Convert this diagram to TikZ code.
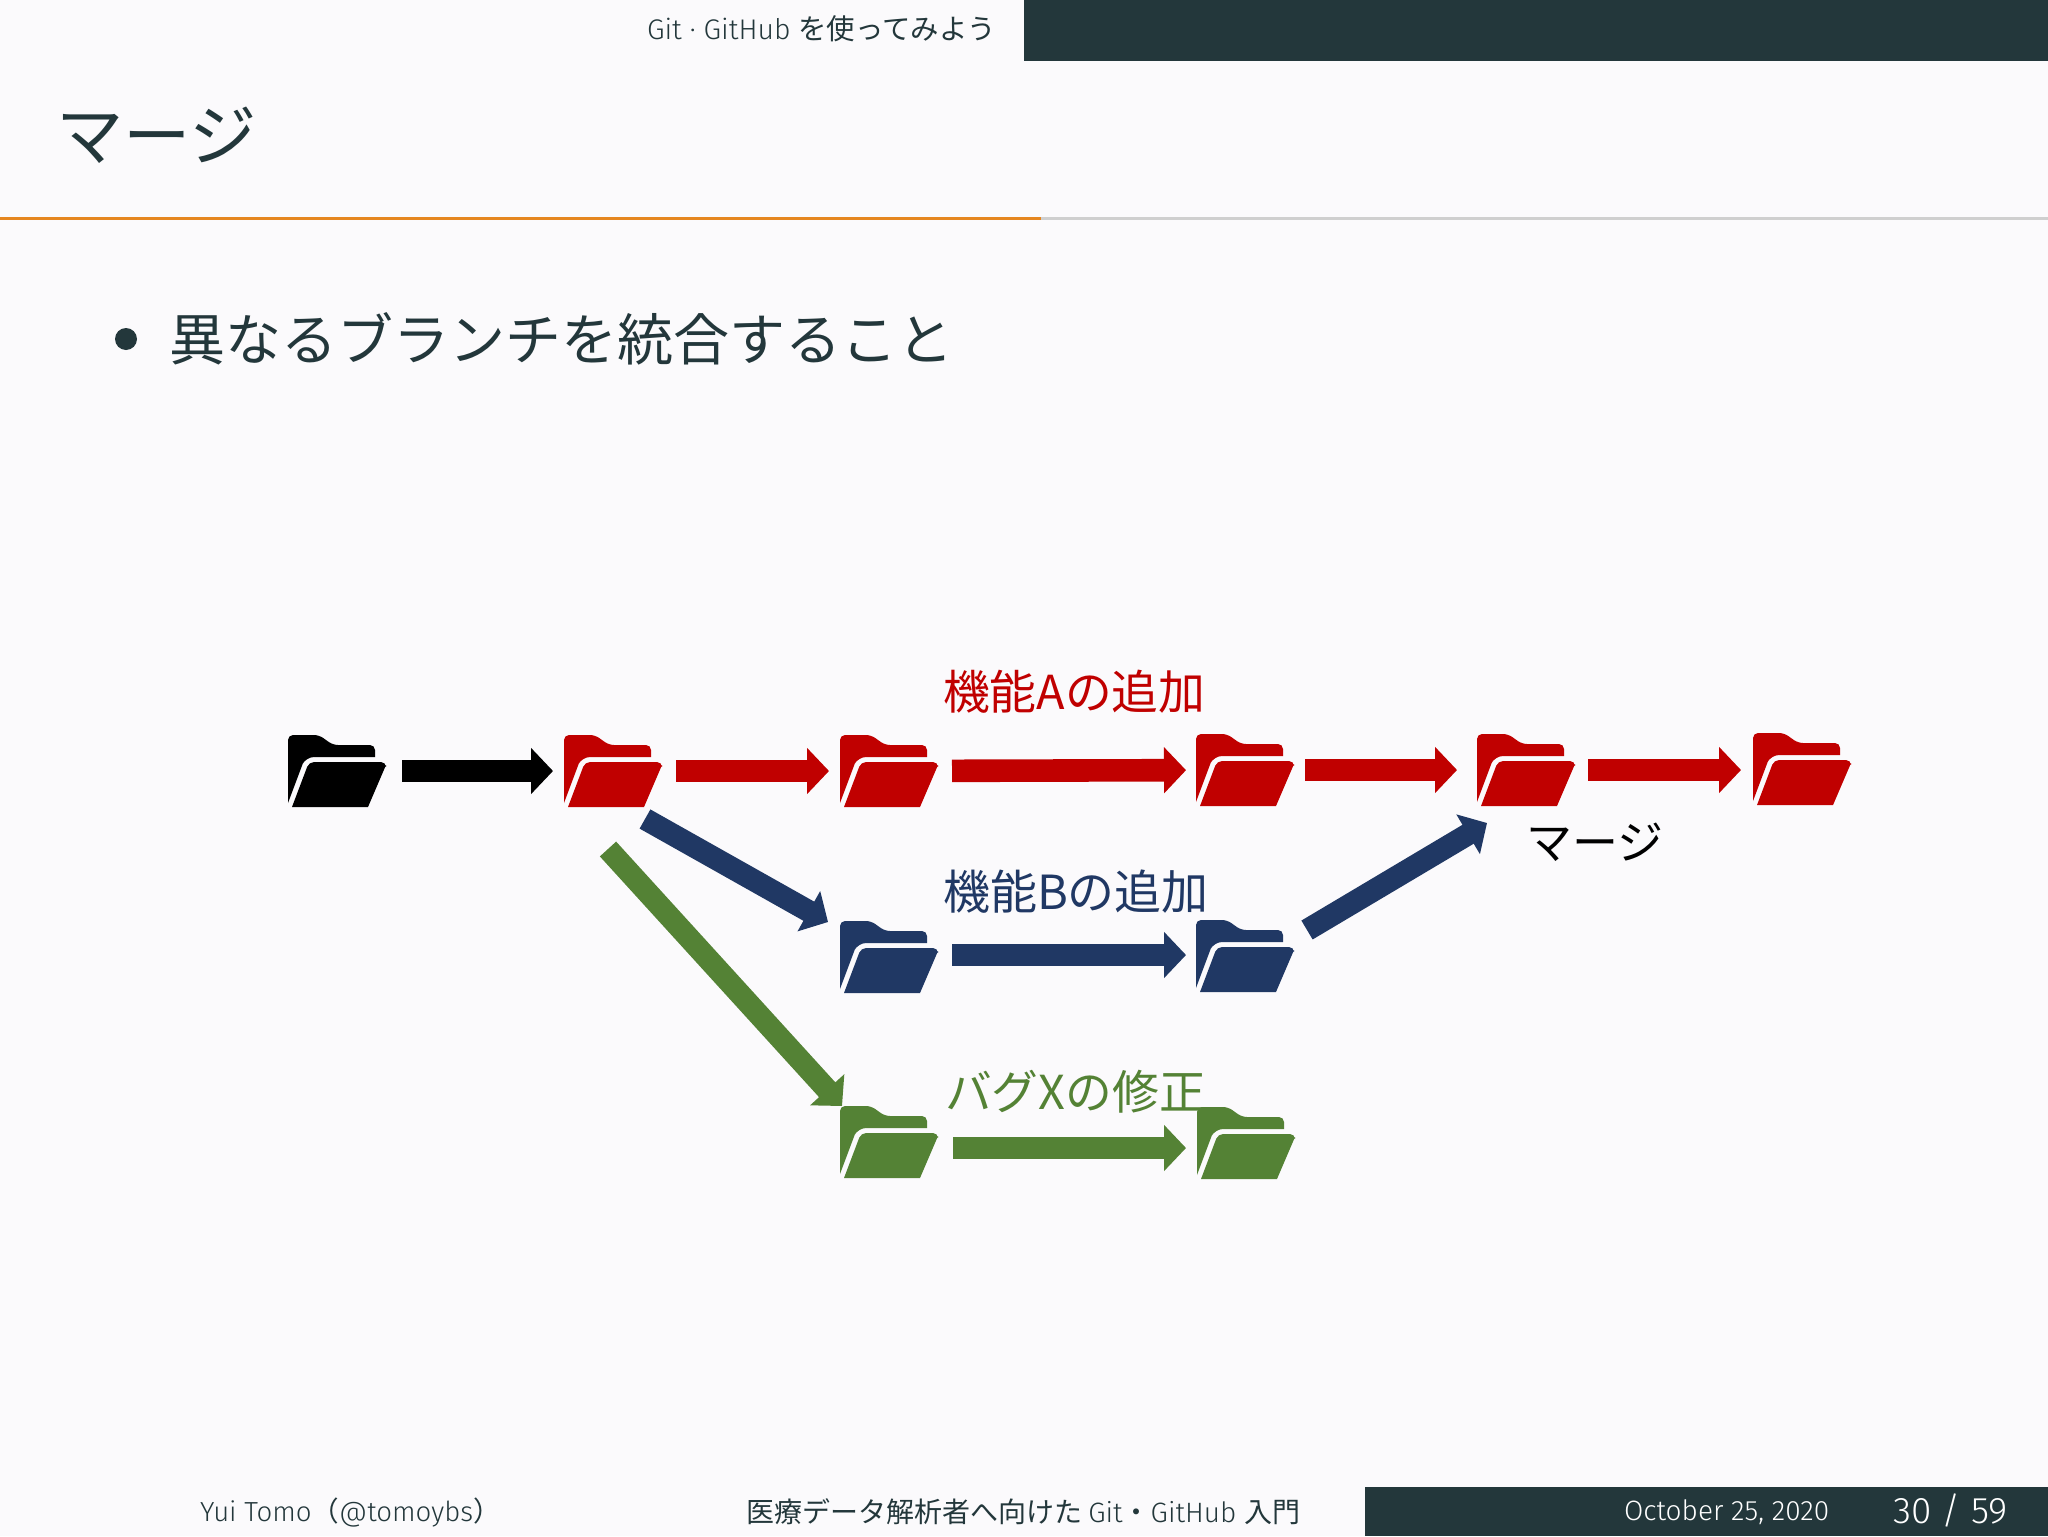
\documentclass[tikz,border=0pt]{standalone}
\usepackage{fontspec}
\usetikzlibrary{arrows.meta}
\setmainfont{Fira Sans Light}
\newfontfamily\cjk{Noto Sans CJK JP}
\newfontfamily\lat{Fira Sans Light}
\definecolor{bgc}{HTML}{FBFAFC}
\definecolor{dark}{HTML}{23373B}
\definecolor{orng}{HTML}{E5861F}
\definecolor{rulegrey}{HTML}{CFCFCF}
\definecolor{cred}{HTML}{C00000}
\definecolor{cblue}{HTML}{203864}
\definecolor{cgreen}{HTML}{548235}
\newcommand{\fs}[1]{\fontsize{#1}{#1}\selectfont}
\newcommand{\folderat}[4]{%
  \node[folderbox] (#1) at (#2,#3) {};
  \begin{scope}[shift={(#1.north west)}]
    \fill[#4] (0,68) [rounded corners=2.5pt] -- (0,0) -- (31,0) -- (45,10) -- (87,10) -- (87,22) [sharp corners] -- (87,22) -- (30,22) [rounded corners=4pt] -- (18,22) [sharp corners] -- (15,28) -- cycle;
    \fill[#4] (4,72) [rounded corners=2.5pt] -- (21,27) -- (98,27) [sharp corners] -- (98,30) -- (80,72) -- cycle;
  \end{scope}}
\tikzset{
  folderbox/.style={rectangle,inner sep=0pt,outer sep=0pt,minimum width=49pt,minimum height=36pt},
  flow/.style={draw=#1,line width=11.3pt,line cap=butt,-{Triangle[width=22.5pt,length=11pt,fill=#1]}},
  txt/.style={inner sep=0pt,outer sep=0pt,anchor=west},
}
\begin{document}
\begin{tikzpicture}[x=0.5pt,y=-0.5pt]
\useasboundingbox (0,0) rectangle (2048,1536);
\fill[bgc] (0,0) rectangle (2048,1536);
% header
\fill[dark] (1024,0) rectangle (2048,61);
\node[txt,text=dark] (sect) at (647,29) {\fs{14.2}\lat Git · GitHub \cjk を使ってみよう};
\node[txt,text=dark] (title) at (56,135) {\fs{33.7}\cjk マージ};
\fill[rulegrey] (1041,217) rectangle (2048,219.5);
\fill[orng] (0,217) rectangle (1041,219.5);
% bullet
\fill[dark] (126,339) ellipse [x radius=11,y radius=11];
\node[txt,text=dark] (bull) at (169,339) {\fs{28}\cjk 異なるブランチを統合すること};
% labels
\node[txt,text=cred] (la) at (943,692) {\fs{23.4}\cjk 機能Aの追加};
\node[txt,text=cblue] (lb) at (943,892) {\fs{23.5}\cjk 機能Bの追加};
\node[txt,text=cgreen] (lx) at (945,1092) {\fs{23.4}\cjk バグXの修正};
\node[txt,text=black] (lm) at (1526,842) {\fs{23}\cjk マージ};
% folders
\folderat{f1}{337}{771}{black}
\folderat{f2}{613}{771}{cred}
\folderat{f3}{889}{771}{cred}
\folderat{f4}{1245}{770}{cred}
\folderat{f5}{1526}{770}{cred}
\folderat{f6}{1802}{769}{cred}
\folderat{b1}{889}{957}{cblue}
\folderat{b2}{1245}{956}{cblue}
\folderat{g1}{889}{1142}{cgreen}
\folderat{g2}{1246}{1143}{cgreen}
% connectors
\draw[flow=black,shorten <=32.5pt,shorten >=30pt] (f1.center) -- (f2.center);
\draw[flow=cred,shorten <=31.5pt,shorten >=30pt] (f2.center) -- (f3.center);
\draw[flow=cred,shorten <=31.5pt,shorten >=29.5pt] (f3.center) -- (f4.center);
\draw[flow=cred,shorten <=30pt,shorten >=34.5pt] (f4.center) -- (f5.center);
\draw[flow=cred,shorten <=31pt,shorten >=30.5pt] (f5.center) -- ([yshift=-0.5pt]f6.center);
\draw[flow=cblue,shorten <=31.5pt,shorten >=29.5pt] ([yshift=1pt]b1.center) -- ([yshift=0.5pt]b2.center);
\draw[flow=cgreen,shorten <=32pt,shorten >=30pt] ([yshift=-3pt]g1.center) -- ([yshift=-2.5pt]g2.center);
\draw[flow=cblue,line width=11pt] ([xshift=16pt,yshift=-24pt]f2.center) -- ([xshift=-30.5pt,yshift=17.5pt]b1.center);
\draw[flow=cgreen,line width=11pt] ([xshift=-2.5pt,yshift=-39pt]f2.center) -- ([xshift=-23.5pt,yshift=18pt]g1.center);
\draw[flow=cblue,line width=11pt] ([xshift=31pt,yshift=13pt]b2.center) -- ([xshift=-19.5pt,yshift=-26.5pt]f5.center);
% footer
\fill[dark] (1365,1487) rectangle (2048,1536);
\node[txt,text=dark] (fa) at (200,1512) {\fs{13.8}\lat Yui Tomo\cjk （\lat @tomoybs\cjk ）};
\node[txt,text=dark] (ft) at (746,1512) {\fs{14}\cjk 医療データ解析者へ向けた \lat Git\cjk ・\lat GitHub \cjk 入門};
\node[txt,text=white] (fd) at (1624,1512) {\fs{14}\lat October 25, 2020};
\node[txt,text=white] (fp) at (1893,1510) {\fs{18.5}\lat 30 / 59};
\end{tikzpicture}
\end{document}
